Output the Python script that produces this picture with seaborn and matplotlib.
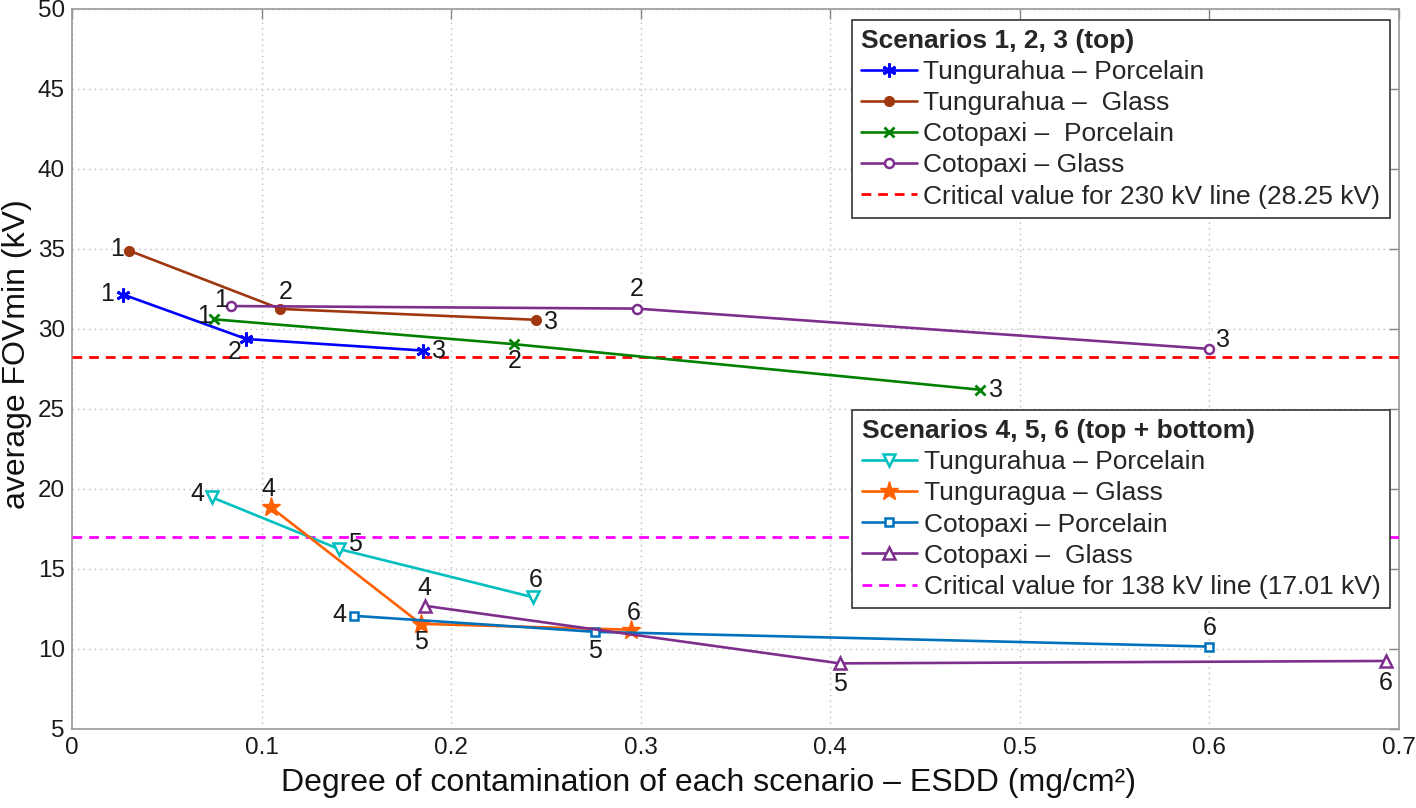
import matplotlib
matplotlib.use("Agg")
import matplotlib.pyplot as plt
import seaborn as sns
import pandas as pd
import numpy as np

# ---------------- data ----------------
# Scenarios 1,2,3 (top)
tp_x = [0.027, 0.092, 0.185]; tp_y = [32.15, 29.37, 28.65]      # Tungurahua - Porcelain
tg_x = [0.030, 0.110, 0.245]; tg_y = [34.9, 31.25, 30.57]       # Tungurahua - Glass
cp_x = [0.075, 0.233, 0.479]; cp_y = [30.6, 29.05, 26.2]        # Cotopaxi - Porcelain
cg_x = [0.084, 0.298, 0.600]; cg_y = [31.43, 31.27, 28.75]      # Cotopaxi - Glass
top_labels = ["1", "2", "3"]
crit_230 = 28.25

# Scenarios 4,5,6 (top + bottom)
tp2_x = [0.074, 0.141, 0.243]; tp2_y = [19.47, 16.24, 13.24]    # Tungurahua - Porcelain
tg2_x = [0.105, 0.184, 0.295]; tg2_y = [18.85, 11.57, 11.2]     # Tunguragua - Glass
cp2_x = [0.149, 0.276, 0.600]; cp2_y = [12.07, 11.07, 10.15]    # Cotopaxi - Porcelain
cg2_x = [0.186, 0.405, 0.693]; cg2_y = [12.7, 9.1, 9.25]        # Cotopaxi - Glass
bot_labels = ["4", "5", "6"]
crit_138 = 17.01

names_top = ["Tungurahua \u2013 Porcelain", "Tungurahua \u2013  Glass",
             "Cotopaxi \u2013  Porcelain", "Cotopaxi \u2013 Glass"]
names_bot = ["Tungurahua \u2013 Porcelain", "Tunguragua \u2013 Glass",
             "Cotopaxi \u2013 Porcelain", "Cotopaxi \u2013  Glass"]
crit_230_label = "Critical value for 230 kV line (28.25 kV)"
crit_138_label = "Critical value for 138 kV line (17.01 kV)"

x_ticks = [0, 0.1, 0.2, 0.3, 0.4, 0.5, 0.6, 0.7]
x_ticklabels = ["0", "0.1", "0.2", "0.3", "0.4", "0.5", "0.6", "0.7"]
y_ticks = [5, 10, 15, 20, 25, 30, 35, 40, 45, 50]

# ---------------- style ----------------
sns.set_style("white")
plt.rcParams["font.family"] = ["Liberation Sans", "DejaVu Sans"]

fig = plt.figure(figsize=(14.16, 8.08), dpi=100)
ax = fig.add_axes([0.0508, 0.0978, 0.9372, 0.8912])

top_series = [(tp_x, tp_y), (tg_x, tg_y), (cp_x, cp_y), (cg_x, cg_y)]
bot_series = [(tp2_x, tp2_y), (tg2_x, tg2_y), (cp2_x, cp2_y), (cg2_x, cg2_y)]

top_styles = [
    dict(color="#0000FF", marker=(6, 2, 0), markersize=10, mew=2.0, mfc="#0000FF"),
    dict(color="#A0380F", marker="o", markersize=6.5, mew=1.5, mfc="#A0380F"),
    dict(color="#008000", marker="x", markersize=7, mew=2.0),
    dict(color="#7E2F8E", marker="o", markersize=6.5, mew=1.8, mfc="white"),
]
bot_styles = [
    dict(color="#00BFBF", marker="v", markersize=8.5, mew=1.8, mfc="white"),
    dict(color="#FF6100", marker="*", markersize=14, mew=1.0, mfc="#FF6100"),
    dict(color="#0072BD", marker="s", markersize=6, mew=1.8, mfc="white"),
    dict(color="#7E2F8E", marker="^", markersize=8.5, mew=1.8, mfc="white"),
]

# label offsets in pixels (dx, dy up)
top_offsets = [
    [(-16, 1), (-12, -13), (16, 0)],
    [(-12, 2), (5, 17), (15, -2)],
    [(-10, 3), (1, -17), (16, 0)],
    [(-10, 6), (0, 20), (14, 9)],
]
bot_offsets = [
    [(-15, 3), (16, 5), (3, 17)],
    [(-3, 18), (0, -18), (2, 17)],
    [(-15, 1), (0, -19), (0, 19)],
    [(0, 18), (0, -21), (0, -22)],
]
PT = 72.0 / 100.0

def draw_group(series, styles, names, offsets, labels):
    handles = []
    for (xs, ys), st, name, offs in zip(series, styles, names, offsets):
        df = pd.DataFrame({"x": xs, "y": ys})
        sns.lineplot(data=df, x="x", y="y", ax=ax, color=st["color"], linewidth=1.9,
                     marker=st["marker"], markersize=st["markersize"],
                     markeredgewidth=st["mew"], markeredgecolor=st["color"],
                     markerfacecolor=st.get("mfc", st["color"]), label=name,
                     legend=False, zorder=4)
        handles.append(ax.lines[-1])
        for xi, yi, lab, off in zip(xs, ys, labels, offs):
            ax.annotate(lab, (xi, yi), xytext=(off[0] * PT, off[1] * PT),
                        textcoords="offset points", ha="center", va="center",
                        fontsize=18, color="#1a1a1a", zorder=6)
    return handles

handles_top = draw_group(top_series, top_styles, names_top, top_offsets, top_labels)
handles_bot = draw_group(bot_series, bot_styles, names_bot, bot_offsets, bot_labels)

h230 = ax.axhline(crit_230, color="#FF0000", linestyle=(0, (3.5, 2.5)), linewidth=2.0, zorder=3,
                  label=crit_230_label)
h138 = ax.axhline(crit_138, color="#FF00FF", linestyle=(0, (3.5, 2.5)), linewidth=2.0, zorder=3,
                  label=crit_138_label)

ax.set_xlim(0, 0.7)
ax.set_ylim(5, 50)
ax.set_xticks(x_ticks)
ax.set_xticklabels(x_ticklabels)
ax.set_yticks(y_ticks)
ax.tick_params(axis="both", which="both", direction="in", length=7, labelsize=17.5,
               labelcolor="#1a1a1a", color="#888888", width=1.0,
               top=True, right=True)
ax.tick_params(axis="x", pad=6)
ax.tick_params(axis="y", pad=5)
ax.grid(True, linestyle=(0, (1, 3)), color="#BBBBBB", linewidth=1.0)
for sp in ax.spines.values():
    sp.set_color("#999999")
    sp.set_linewidth(1.2)
ax.set_xlabel("Degree of contamination of each scenario \u2013 ESDD (mg/cm\u00b2)", fontsize=23,
              color="#111111")
ax.set_ylabel("average FOVmin (kV)", fontsize=23, color="#111111")
ax.xaxis.set_label_coords(0.48, -0.054)
ax.yaxis.set_label_coords(-0.030, 0.52)

leg_kw = dict(fontsize=19, title_fontsize=19, frameon=True, fancybox=False,
              edgecolor="#333333", framealpha=1.0, handlelength=2.1, handletextpad=0.25,
              labelspacing=0.27, borderpad=0.35, borderaxespad=0)
leg1 = ax.legend(handles_top + [h230], names_top + [crit_230_label],
                 title="Scenarios 1, 2, 3 (top)", loc="upper right",
                 bbox_to_anchor=(0.993, 0.985), **leg_kw)
leg1.get_title().set_fontweight("bold")
leg1._legend_box.align = "left"
leg1.get_frame().set_linewidth(1.2)
ax.add_artist(leg1)

leg2 = ax.legend(handles_bot + [h138], names_bot + [crit_138_label],
                 title="Scenarios 4, 5, 6 (top + bottom)", loc="upper right",
                 bbox_to_anchor=(0.993, 0.443), **leg_kw)
leg2.get_title().set_fontweight("bold")
leg2._legend_box.align = "left"
leg2.get_frame().set_linewidth(1.2)
leg1.set_zorder(10)
leg2.set_zorder(10)

fig.savefig("out.png", dpi=100)
